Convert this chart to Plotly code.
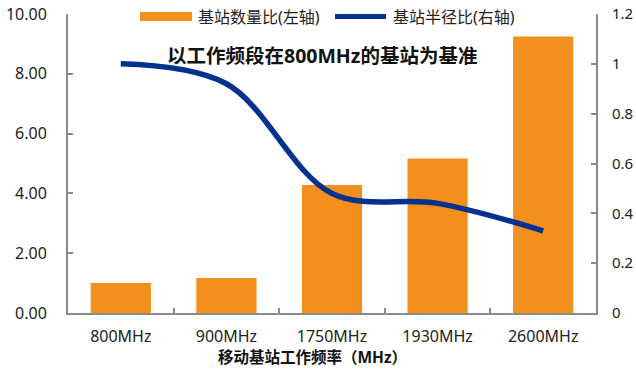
import plotly.graph_objects as go

# Data
categories = ["800MHz", "900MHz", "1750MHz", "1930MHz", "2600MHz"]
station_ratio = [1.00, 1.17, 4.28, 5.17, 9.25]      # 基站数量比 (left axis)
radius_ratio = [1.00, 0.92, 0.48, 0.44, 0.33]        # 基站半径比 (right axis)

bar_name = "基站数量比(左轴)"
line_name = "基站半径比(右轴)"
note_text = "以工作频段在800MHz的基站为基准"
x_title = "移动基站工作频率（MHz）"

ORANGE = "#F3901D"
NAVY = "#02318F"
AXIS_GREY = "#8A8A8A"
FONT = "Noto Sans, Noto Sans CJK SC, sans-serif"

W, H = 636, 373
L, R, T, B = 68, 40, 14, 60
PW, PH = W - L - R, H - T - B


def px_x(x):
    return (x - L) / PW


def px_y(y):
    return (H - B - y) / PH


fig = go.Figure()
fig.add_trace(go.Bar(
    x=categories, y=station_ratio, name=bar_name,
    marker=dict(color=ORANGE, line=dict(width=0)),
    yaxis="y", showlegend=False,
))
fig.add_trace(go.Scatter(
    x=categories, y=radius_ratio, name=line_name, mode="lines",
    line=dict(color=NAVY, width=5.5, shape="spline", smoothing=1.0),
    yaxis="y2", showlegend=False,
))

axis_common = dict(
    showline=True, linecolor=AXIS_GREY, linewidth=2,
    ticks="inside", ticklen=5, tickcolor=AXIS_GREY, tickwidth=1.5,
    showgrid=False, zeroline=False, automargin=False,
    tickfont=dict(family=FONT, size=16, color="#222222"),
)

fig.update_layout(
    width=W, height=H,
    margin=dict(l=L, r=R, t=T, b=B),
    paper_bgcolor="white", plot_bgcolor="white",
    bargap=0.43,
    xaxis=dict(**axis_common, tickson="boundaries", ticklabelstandoff=8),
    yaxis=dict(**axis_common, range=[0, 10], dtick=2, tickformat=".2f",
               ticklabelstandoff=16),
    yaxis2=dict(**{**axis_common, "tickfont": dict(family=FONT, size=15, color="#222222")},
                range=[0, 1.2], dtick=0.2, overlaying="y",
                side="right", ticklabelstandoff=11),
    showlegend=False,
)

# Axis title for the frequency categories
fig.add_annotation(text=x_title, xref="paper", yref="paper",
                   x=px_x(312), y=px_y(357), xanchor="center", yanchor="middle",
                   showarrow=False,
                   font=dict(family=FONT, size=15.5, color="#111111", weight="bold"))

# Legend drawn as swatches plus labels
fig.add_shape(type="rect", xref="paper", yref="paper",
              x0=px_x(140), x1=px_x(192), y0=px_y(21), y1=px_y(12),
              fillcolor=ORANGE, line=dict(width=0))
fig.add_shape(type="line", xref="paper", yref="paper",
              x0=px_x(335), x1=px_x(386), y0=px_y(16.5), y1=px_y(16.5),
              line=dict(color=NAVY, width=5))
fig.add_annotation(text=bar_name, xref="paper", yref="paper",
                   x=px_x(196), y=px_y(17), xanchor="left", yanchor="middle",
                   showarrow=False, font=dict(family=FONT, size=16, color="#222222"))
fig.add_annotation(text=line_name, xref="paper", yref="paper",
                   x=px_x(391), y=px_y(17), xanchor="left", yanchor="middle",
                   showarrow=False, font=dict(family=FONT, size=16, color="#222222"))

# Reference note
fig.add_annotation(text=note_text, xref="paper", yref="paper",
                   x=px_x(322), y=px_y(55), xanchor="center", yanchor="middle",
                   showarrow=False,
                   font=dict(family=FONT, size=19.5, color="#111111", weight="bold"))

fig.write_html("out.html")
